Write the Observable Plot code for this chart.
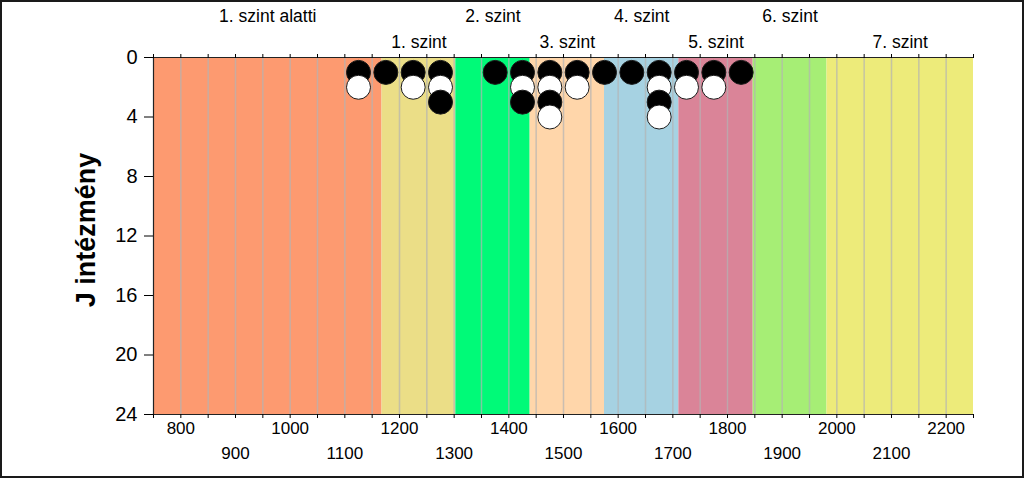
<!DOCTYPE html>
<html><head><meta charset="utf-8">
<script src="https://cdn.jsdelivr.net/npm/d3@7"></script>
<script src="https://cdn.jsdelivr.net/npm/@observablehq/plot@0.6"></script>
<style>
body{margin:0;background:#fff;}
#wrap{position:relative;width:1024px;height:478px;overflow:hidden;}
#frame{position:absolute;left:0;top:0;width:1024px;height:478px;box-sizing:border-box;border:2px solid #1a1a1a;pointer-events:none;}
</style></head><body>
<div id="wrap"><div id="chart"></div><div id="frame"></div></div>
<script>
// Bands (levels)
const bandLabels = ["1. szint alatti","1. szint","2. szint","3. szint","4. szint","5. szint","6. szint","7. szint"];
const bandStarts = [750,1168,1303,1439,1575,1711,1847,1982];
const bandEnds   = [1168,1303,1439,1575,1711,1847,1982,2250];
const bandColors = ["#FD9A70","#EBDE87","#00FA78","#FFD6AA","#A6D2E2","#DA8498","#A6EE75","#EDEB7A"];

// Stacked dots per 50-point bin
const binCenters = [1125,1175,1225,1275,1375,1425,1475,1525,1575,1625,1675,1725,1775,1825];
const binCounts  = [2,1,2,3,1,3,4,2,1,1,4,2,2,1];

// Ticks
const xTicksRow1 = [800,1000,1200,1400,1600,1800,2000,2200];
const xTicksRow2 = [900,1100,1300,1500,1700,1900,2100];
const xMinorTicks = d3.range(750, 2251, 50);
const xGrid = d3.range(800, 2250, 50);
const yTicks = [0,4,8,12,16,20,24];
const yLabel = "J intézmény";

const bands = bandLabels.map((label, i) => ({label, start: bandStarts[i], end: bandEnds[i], row: i % 2}));
const dots = [];
binCenters.forEach((x, i) => {
  for (let k = 1; k <= binCounts[i]; k++) dots.push({x, y: k, kind: k % 2 === 1 ? "black" : "white"});
});

const font = "'Liberation Sans', Arial, sans-serif";

const chart = Plot.plot({
  width: 1024,
  height: 478,
  marginLeft: 153,
  marginRight: 51,
  marginTop: 57,
  marginBottom: 64,
  style: {fontFamily: font, background: "white", color: "black", overflow: "visible"},
  x: {domain: [750, 2250]},
  y: {domain: [0, 24], reverse: true},
  color: {domain: bandLabels, range: bandColors},
  marks: [
    Plot.rect(bands, {x1: "start", x2: "end", y1: 0, y2: 24, fill: "label"}),
    Plot.ruleX(xGrid, {stroke: "#b4b4b4", strokeOpacity: 0.7, strokeWidth: 1.5}),
    Plot.dot(dots, {x: "x", y: "y", r: 12, fill: d => d.kind, stroke: "#1a1a1a", strokeWidth: 1}),
    Plot.ruleX([750], {stroke: "#222", strokeWidth: 1.2}),
    Plot.ruleY([0], {stroke: "#222", strokeWidth: 1.2}),
    Plot.ruleY([24], {stroke: "#222", strokeWidth: 1.2}),
    Plot.axisX({anchor: "top", ticks: xMinorTicks, tickSize: 4, tickFormat: () => "", label: null}),
    Plot.axisX({anchor: "bottom", ticks: xMinorTicks, tickSize: 4, tickFormat: () => "", label: null}),
    Plot.axisX({anchor: "bottom", ticks: xTicksRow1, tickSize: 0, tickPadding: 7.5, fontSize: 17, label: null, tickFormat: d => String(d)}),
    Plot.axisX({anchor: "bottom", ticks: xTicksRow2, tickSize: 0, tickPadding: 32.5, fontSize: 17, label: null, tickFormat: d => String(d)}),
    Plot.axisY({ticks: yTicks, tickSize: 9, tickPadding: 7, fontSize: 20, label: null, tickFormat: d => String(d)}),
    Plot.text(bands.filter(d => d.row === 0), {x: d => (d.start + d.end) / 2, text: "label", frameAnchor: "top", lineAnchor: "middle", dy: -41, fontSize: 17.5, fill: "black"}),
    Plot.text(bands.filter(d => d.row === 1), {x: d => (d.start + d.end) / 2, text: "label", frameAnchor: "top", lineAnchor: "middle", dy: -15.5, fontSize: 17.5, fill: "black"}),
    Plot.text([yLabel], {frameAnchor: "left", textAnchor: "middle", dx: -67, dy: -6, rotate: -90, fontSize: 27, fontWeight: "bold", fill: "black"})
  ]
});
document.getElementById("chart").appendChild(chart);
</script>
</body></html>
